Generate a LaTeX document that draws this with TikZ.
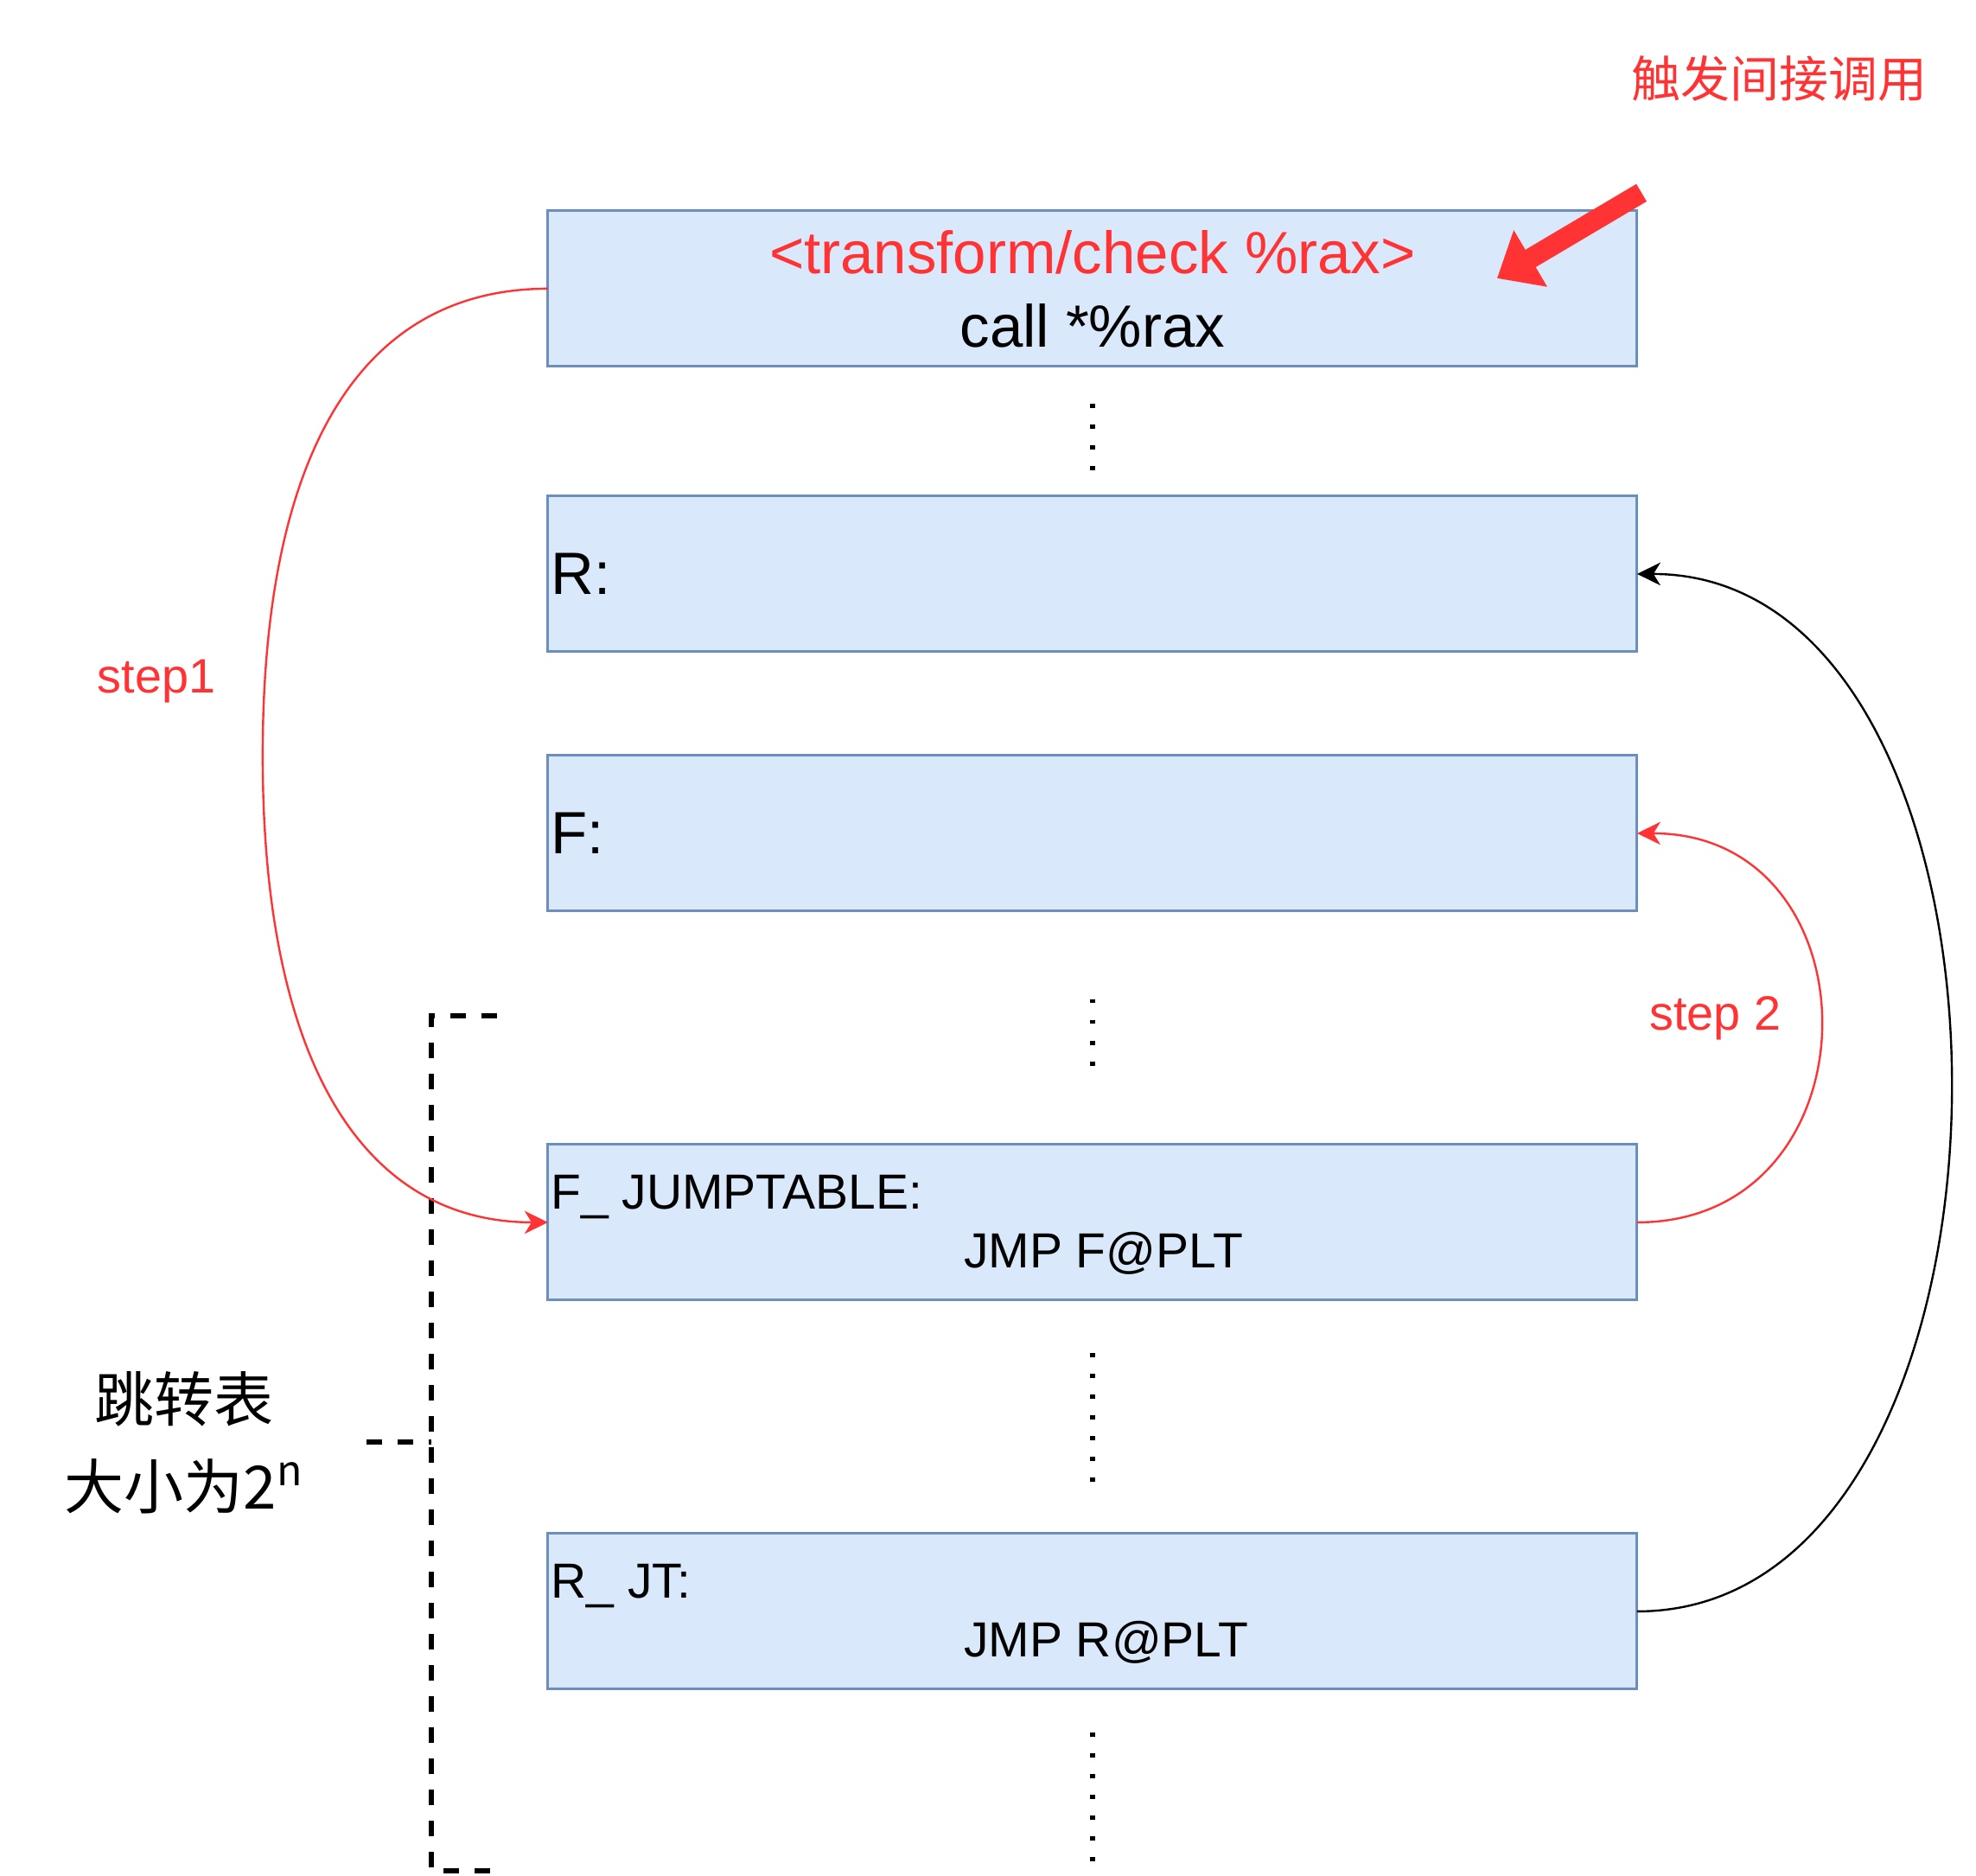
\documentclass[tikz,border=0pt]{standalone}
\usepackage{fontspec}
\setmainfont{Liberation Sans}
\newfontfamily\cjk{Noto Sans CJK SC}
\usetikzlibrary{arrows.meta,positioning}
\definecolor{boxfill}{HTML}{DAE8FC}
\definecolor{boxline}{HTML}{6C8EBF}
\definecolor{hot}{HTML}{FF3333}
\tikzset{>={Stealth[length=9pt,width=8.8pt,inset=2.7pt]}, % arrow heads of the jumps
x=1pt, y=-1pt, % coordinates are points, counted downwards
block/.style={draw=boxline, fill=boxfill, line width=1pt, minimum width=420pt, minimum height=60pt, inner sep=0pt, outer sep=0pt}, % the code blocks
big/.style={font=\fontsize{23}{28.3}\selectfont, inner sep=0pt}, % text of the blocks
small/.style={font=\fontsize{19}{22}\selectfont, inner sep=0pt}, % jump table text
steplabel/.style={font=\fontsize{18.6}{22}\selectfont, inner sep=0pt, text=hot}, % step labels
dots/.style={line width=2pt, dash pattern=on 1.6pt off 6.42pt}, % vertical ellipsis between blocks
brace/.style={line width=2pt, dash pattern=on 6pt off 6pt}, % the dashed bracket of the table
jump/.style={->, line width=0.8pt}, % control flow edges
}

\begin{document}
\begin{tikzpicture}
\useasboundingbox (0,0) rectangle (762,723);
\node[block, big, align=center] (call) at (421.3,111.3) {\textcolor{hot}{<transform/check \%rax>}\\call *\%rax};
\node[block, below=50pt of call] (R) {};
\node[block, below=40pt of R] (F) {};
\node[block, below=90pt of F] (FJT) {};
\node[block, below=90pt of FJT] (RJT) {};
% names inside the blocks
\node[big, anchor=west] (Rname) at ([xshift=1pt]R.west) {R:};
\node[big, anchor=west] (Fname) at ([xshift=1pt]F.west) {F:};
\node[small, anchor=base west] (FJTname) at ([xshift=1pt,yshift=5.3pt]FJT.west) {F\_ JUMPTABLE:};
\node[small, anchor=base west] (FJTjmp) at ([xshift=-49.8pt,yshift=-17.6pt]FJT.center) {JMP F@PLT};
\node[small, anchor=base west] (RJTname) at ([xshift=1pt,yshift=5.2pt]RJT.west) {R\_ JT:};
\node[small, anchor=base west] (RJTjmp) at ([xshift=-49.8pt,yshift=-17.6pt]RJT.center) {JMP R@PLT};
% ellipsis
\draw[dots] (421.3,155.7) -- (421.3,181.4);
\draw[dots] (421.3,385.2) -- (421.3,410.9);
\draw[dots] (421.3,521.7) -- (421.3,571.5);
\draw[dots] (421.3,668) -- (421.3,717.8);
% jump table bracket
\draw[brace] (191.7,391.5) -- (166.3,391.5) -- (166.3,721.3) -- (189.3,721.3);
\draw[brace] (141.3,556) -- (166.3,556);
\node[font=\cjk\fontsize{23}{33.7}\selectfont, align=center, inner sep=0pt] (size) at (71,556.2) {跳转表\\大小为2\textsuperscript{n}};
% trigger
\node[font=\cjk\fontsize{19}{22}\selectfont, text=hot, inner sep=0pt] (hint) at (686,30.3) {触发间接调用};
\coordinate (hintTail) at (633,74.3);
\coordinate (hintTip) at (577.3,107.3);
\draw[hot, line width=7.8pt, -{Triangle[length=15pt,width=24.4pt]}] (hintTail) -- (hintTip);
% steps
\node[steplabel, anchor=base] (s1) at (60.3,267) {step1};
\node[steplabel, anchor=base] (s2) at (661.5,397.3) {step 2};
\coordinate (bend) at (101.3,291.3);
\draw[jump, hot] (call.west) .. controls +(-71.3,0) and +(0,-118.2) .. (bend) .. controls +(0,118.2) and +(-71.3,0) .. (FJT.west);
\draw[jump, hot] (FJT.east) to[out=0, in=0, distance=94.2pt] (F.east);
\draw[jump] (RJT.east) to[out=0, in=0, distance=160.9pt] (R.east);
\end{tikzpicture}
\end{document}
